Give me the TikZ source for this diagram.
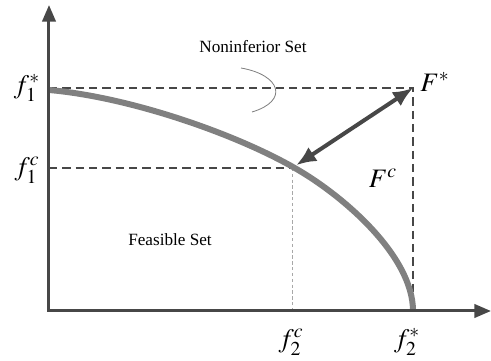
\documentclass[tikz,border=0pt]{standalone}
\usepackage{mathptmx}
\usepackage{fontspec}
\setmainfont{Liberation Serif}
\usetikzlibrary{arrows.meta}
\definecolor{axisgray}{HTML}{474747}
\definecolor{frontgray}{HTML}{808080}
\definecolor{lightgray}{HTML}{A8A8A8}
\begin{document}
\begin{tikzpicture}[x = 0.6pt, y = 0.6pt,
	axis/.style = {line width = 1.8pt, draw = axisgray, -{Triangle[width = 8pt, length = 10pt]}},
	guide/.style = {dash pattern = on 5pt off 3pt, line width = 0.8pt, draw = axisgray},
	lbl/.style = {font = \fontsize{16}{19}\selectfont},
	settext/.style = {font = \fontsize{10.3}{12}\selectfont}]
	\useasboundingbox (-49,-50) rectangle (442,311);
	\coordinate (O) at (0,0);
	\coordinate (Fs) at (364,223);
	\coordinate (Fc) at (243,143);
	\coordinate (f1s) at (0,223);
	\coordinate (f1c) at (0,143);
	\coordinate (f2s) at (364,0);
	\coordinate (f2c) at (243,0);
	% guide lines
	\draw [guide] (f1s) -- (Fs) -- (f2s);
	\draw [guide] (f1c) -- (Fc);
	\draw [lightgray, line width = 0.6pt, dash pattern = on 2pt off 1.5pt] (Fc) -- (f2c);
	% pointer of the label
	\draw [gray, line width = 0.5pt] (192,243) .. controls (232,236) and (240,210) .. (203,199);
	% noninferior front
	\draw [frontgray, line width = 3.6pt] (0,221) .. controls (80,214) and (184,178) .. (244,144) .. controls (294,116) and (364,55) .. (364,0);
	% axes
	\draw [axis] (0,-1) -- (0,306);
	\draw [axis] (-1,0) -- (442,0);
	\draw [axisgray, line width = 2.4pt, {Latex[width = 10pt, length = 12pt]}-{Latex[width = 10pt, length = 12pt]}, shorten > = 3pt] (Fs) -- (Fc);
	% labels
	\node [lbl] (lf1s) at (-22,223) {$f_1^*$};
	\node [lbl] (lf1c) at (-22,141) {$f_1^c$};
	\node [lbl] (lf2c) at (242,-31) {$f_2^c$};
	\node [lbl] (lf2s) at (358,-31) {$f_2^*$};
	\node [lbl] (lFs) at (386,229) {$F^*$};
	\node [lbl] (lFc) at (334,133) {$F^c$};
	\node [settext] (nonset) at (204,264) {Noninferior Set};
	\node [settext] (feaset) at (121,71) {Feasible Set};
\end{tikzpicture}
\end{document}
